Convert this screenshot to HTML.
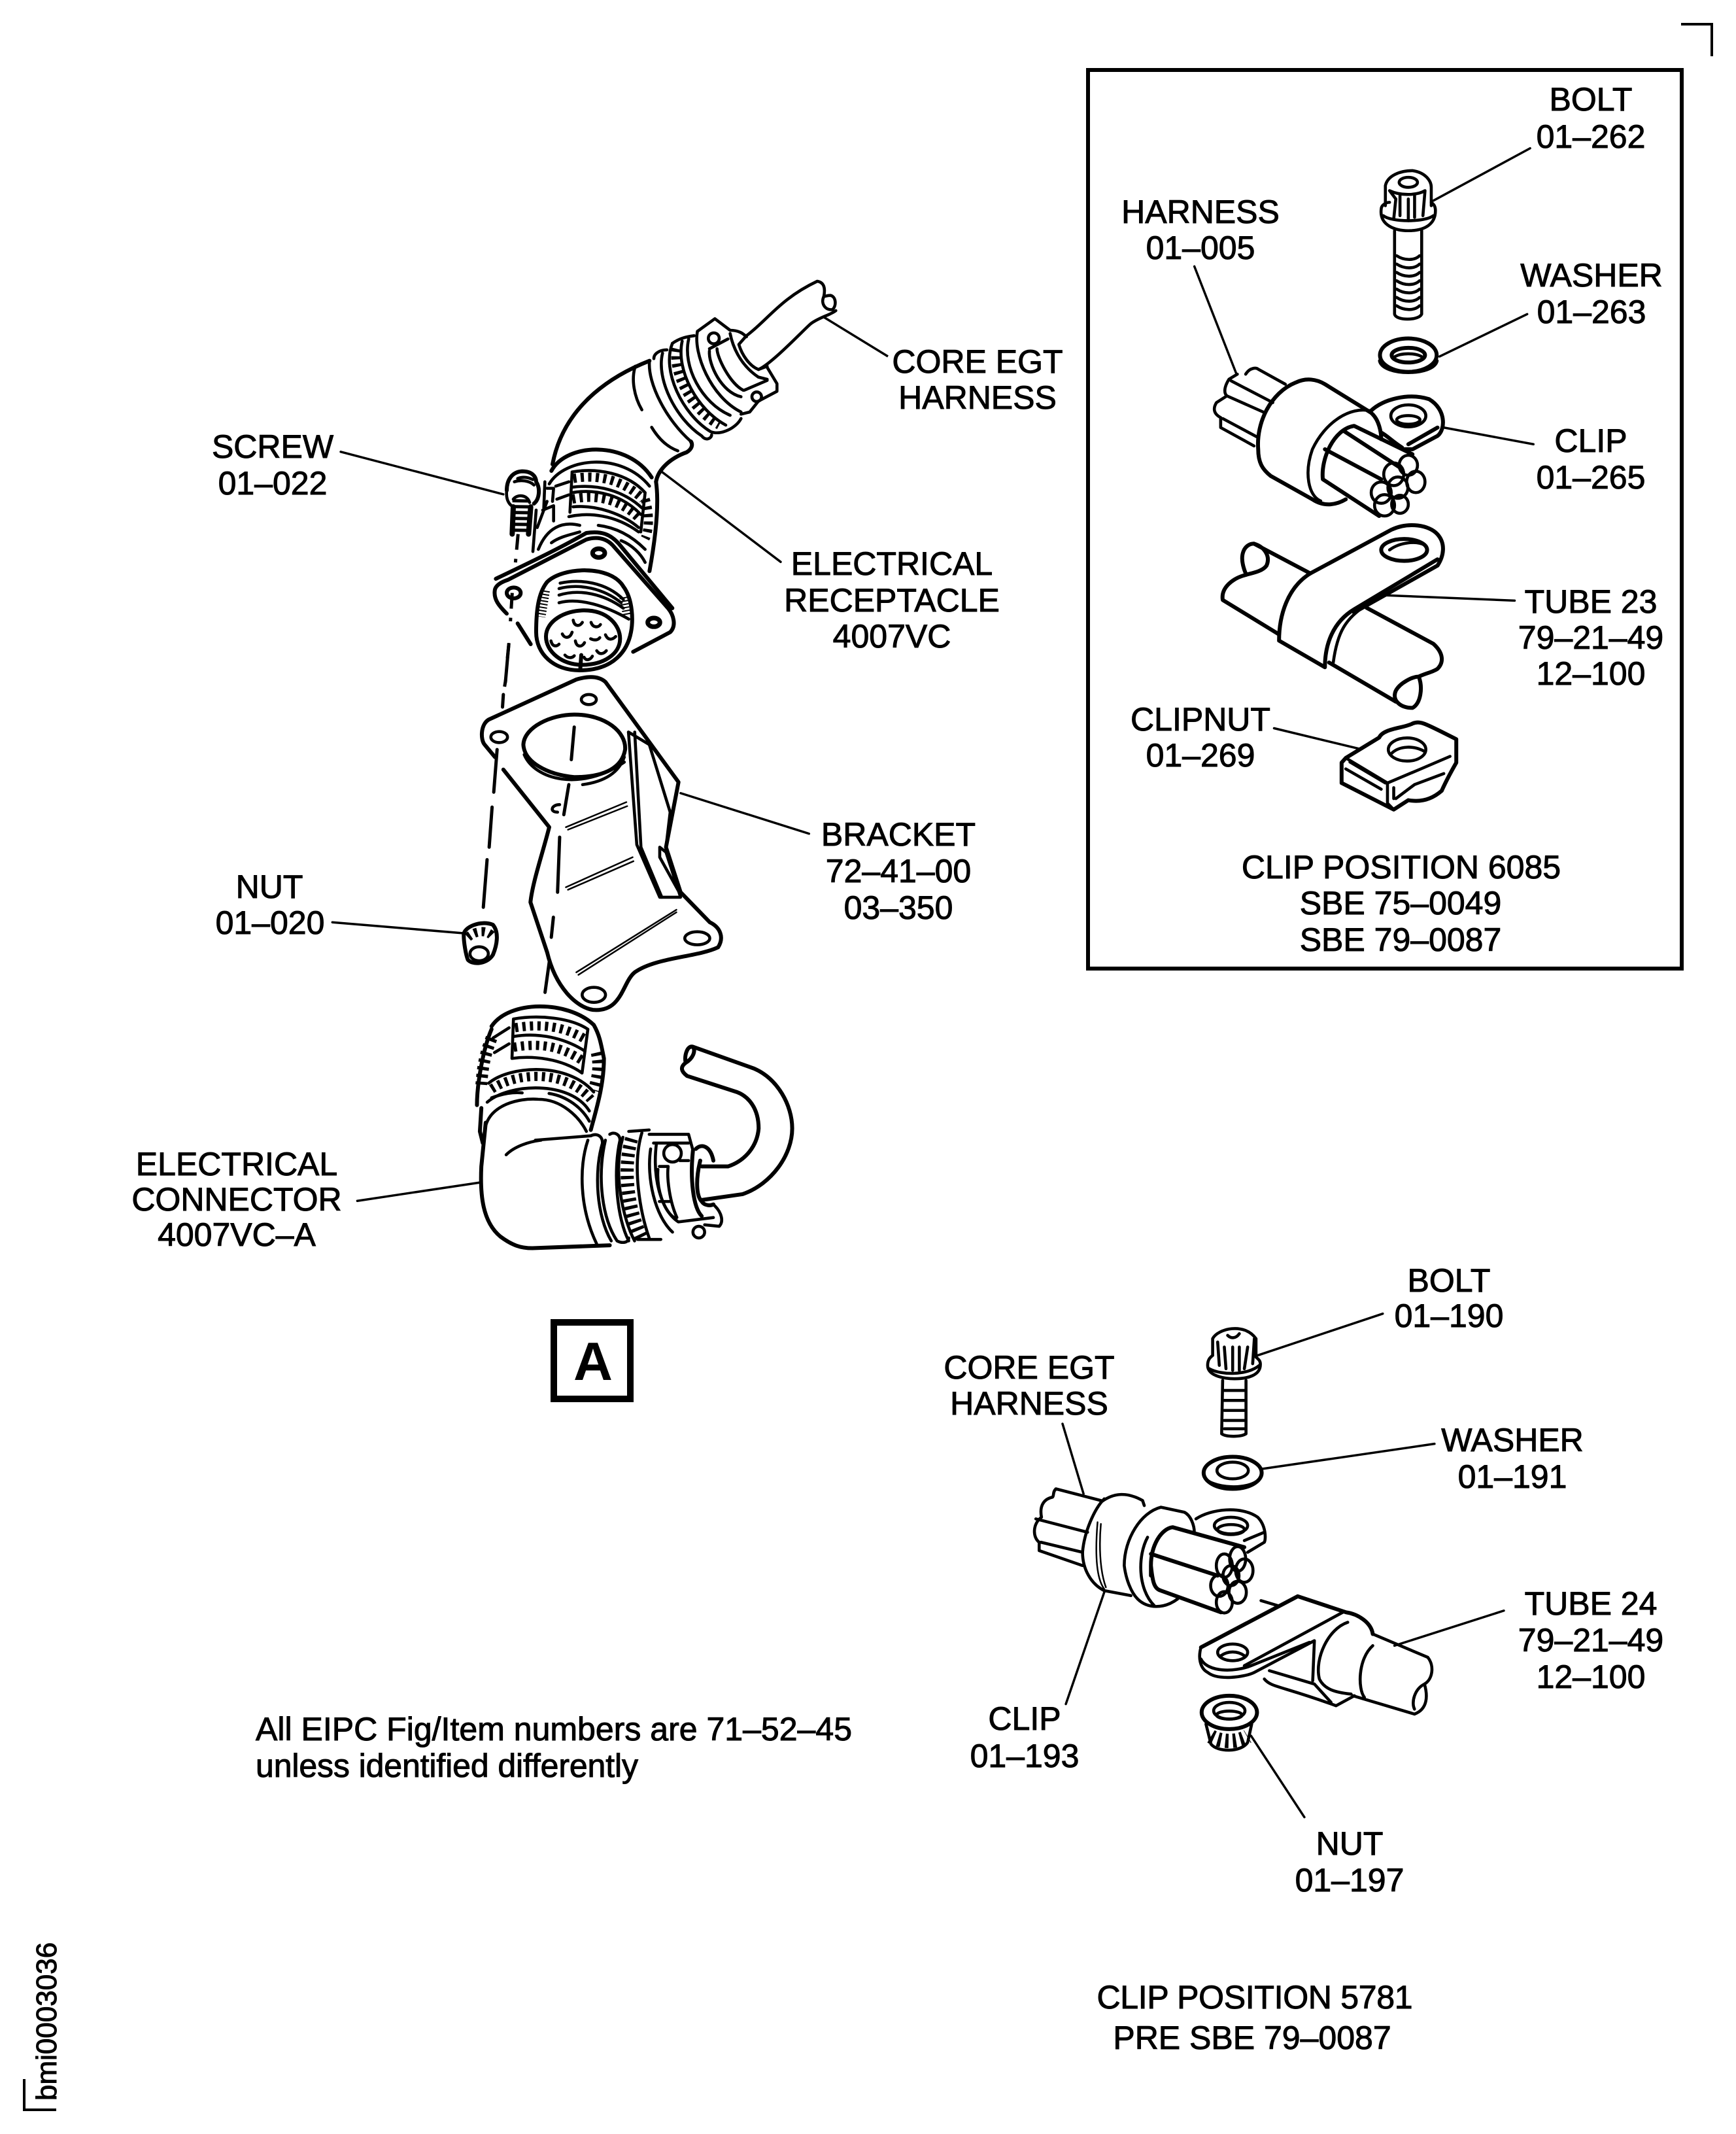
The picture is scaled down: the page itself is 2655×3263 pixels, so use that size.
<!DOCTYPE html>
<html><head><meta charset="utf-8"><style>
html,body{margin:0;padding:0;background:#fff}
svg{display:block}
text{font-family:"Liberation Sans",sans-serif;font-size:50px;fill:#000;stroke:#000;stroke-width:1px;text-anchor:middle}
.l{text-anchor:start}
g.d path,g.d ellipse,g.d circle,.d *{fill:none;stroke:#000;stroke-width:4.6;stroke-linecap:round;stroke-linejoin:round;vector-effect:non-scaling-stroke}
g.d .th{stroke-width:2.5}
g.d .b{stroke-width:6}
g.d .teeth{stroke-linecap:butt;stroke-width:14;stroke-dasharray:5 6.5}
g.d .dash{stroke-linecap:butt;stroke-dasharray:24 14}
</style></head><body>
<svg width="2655" height="3263" viewBox="0 0 2655 3263" xmlns="http://www.w3.org/2000/svg">
<rect width="2655" height="3263" fill="#fff"/>

<!-- corner marks + frame -->
<path d="M2571 37H2618V86" fill="none" stroke="#000" stroke-width="4"/>
<rect x="1664" y="107" width="908" height="1374" fill="none" stroke="#000" stroke-width="6"/>
<path d="M37 3179V3226H86" fill="none" stroke="#000" stroke-width="4"/>
<rect x="847" y="2022" width="117" height="117" fill="none" stroke="#000" stroke-width="10"/>
<text x="907" y="2110" style="font-size:83px;font-weight:bold;stroke-width:0">A</text>

<!-- upper elbow (zoom 8 coords) -->
<g class="d" transform="translate(780 400) scale(.3333)">
<path d="M1085 340C1180 270 1240 170 1410 90C1440 95 1448 120 1440 160"/>
<path d="M1140 495C1200 470 1350 310 1380 285C1420 255 1470 245 1495 225"/>
<path d="M1440 160C1425 190 1445 225 1480 220C1500 200 1495 160 1470 155C1455 155 1445 160 1440 160"/>
<path d="M1085 340L1050 380C1065 430 1100 480 1140 495L1180 480"/>
<path d="M860 320L940 262L1010 315C1050 315 1070 330 1085 345"/>
<path d="M1180 485L1225 560V595L1140 640"/>
<path d="M640 455C500 510 250 640 195 930" class="b"/>
<path d="M670 1010C680 950 740 900 810 875C835 860 840 840 830 825" class="b"/>
<path d="M575 480C555 540 570 620 605 680"/>
<path d="M650 760C680 810 720 850 770 868"/>
<path d="M640 455C630 560 720 730 830 825"/>
<path d="M660 445C660 420 690 405 720 405"/>
<path d="M700 420C670 540 760 720 880 800C900 825 925 810 925 795"/>
<path d="M745 375C695 500 790 700 920 780C970 800 1040 760 1060 720"/>
<path d="M790 365C760 500 860 680 990 750"/>
<path d="M745 375C780 350 810 345 845 340"/>
<path d="M765 400C740 500 830 680 960 750" class="teeth"/>
<path d="M820 355C790 480 880 650 1010 705"/>
<path d="M860 320C840 420 920 620 1060 690"/>
<path d="M915 410C910 470 970 600 1060 620"/>
<path d="M950 400C950 440 1010 560 1070 590"/>
<path d="M915 400L1000 355"/>
<path d="M1010 330C1020 380 1050 470 1140 530L1180 540"/>
<path d="M1075 590L1180 545"/>
<circle cx="935" cy="352" r="25"/><circle cx="1132" cy="620" r="22"/>
<path d="M1060 700L1100 690L1140 640"/>
<!-- coupling ring -->
<path d="M190 960C260 830 540 820 650 990" class="b"/>
<path d="M180 1020C250 900 510 870 640 1030"/>
<path d="M285 965C400 945 540 970 620 1060L600 1240"/>
<path d="M285 965L275 1150"/>
<path d="M285 1035C400 1020 520 1050 605 1130"/>
<path d="M285 1060C400 1040 520 1075 600 1160"/>
<path d="M290 995C400 975 520 1000 610 1090" class="teeth"/>
<path d="M285 1090C400 1065 510 1095 590 1175" class="teeth"/>
<path d="M290 1125C400 1115 520 1160 590 1220"/>
<path d="M670 1010C680 1080 680 1200 640 1420" class="b"/>
<path d="M620 1090C640 1150 640 1230 620 1270" class="teeth"/>
<path d="M160 1010L155 1130M210 1030L270 1010M215 1090L270 1070M125 1220L170 1100"/>
<path d="M170 1040L200 1040L195 1100M150 1140L200 1120L200 1190"/>
<path d="M130 1320C170 1220 240 1190 320 1210M190 1290C230 1260 290 1250 320 1240M405 1210C490 1220 560 1260 620 1320M510 1280C560 1300 600 1340 620 1380"/>
<path d="M105 1330L120 1140"/>
<path d="M270 1170C360 1150 480 1160 590 1240"/>
<path d="M1450 260L1500 290" class="th"/>
</g>

<!-- receptacle (zoom 9 coords) -->
<g class="d" transform="translate(720 700) scale(.3333)">
<path d="M165 150C165 100 190 65 235 62C280 62 300 85 300 110C320 140 315 190 290 210" class="b"/>
<path d="M165 150C160 190 175 215 195 225M215 95C240 85 265 90 285 100M200 110C230 100 270 105 290 125"/>
<path d="M195 190C215 165 260 170 270 205"/>
<path d="M195 225L190 350M275 225L265 350" class="b" style="stroke-width:8"/>
<path d="M230 190L228 350" class="teeth" style="stroke-width:26;stroke-dasharray:5 4"/>
<path d="M217 350L205 480M190 620L182 750M175 850L168 920M160 1020L155 1050" class="dash" style="stroke-width:5"/>
<path d="M165 715C130 680 105 650 110 610C112 585 140 570 170 560L530 375C580 360 620 370 650 400L905 690C930 720 945 770 915 800L745 890" class="b"/>
<path d="M115 555C250 490 400 420 530 345C600 335 640 350 680 395L925 690" class="b"/>
<path d="M215 760L275 855" class="b"/>
<ellipse cx="197" cy="620" rx="32" ry="25" class="b"/>
<ellipse cx="587" cy="437" rx="28" ry="20" style="stroke-width:7"/>
<ellipse cx="840" cy="755" rx="28" ry="20" style="stroke-width:7"/>
<path d="M300 800C300 700 310 620 350 570C420 500 640 490 700 590C745 650 745 750 735 800C720 880 660 975 500 975C380 975 300 900 300 800" class="b"/>
<path d="M345 820C345 750 430 700 520 700C630 700 685 770 685 830C685 900 610 950 510 950C420 950 345 890 345 820" class="b"/>
<path d="M410 575C500 555 620 570 700 650M405 600C500 575 610 600 690 665M405 630C500 600 610 625 700 690M405 665C500 640 620 680 725 740" />
<path d="M345 610L325 730" class="teeth" style="stroke-width:12;stroke-dasharray:2 3"/>
<path d="M700 640L715 720" class="teeth" style="stroke-width:12;stroke-dasharray:2 3"/>
<path d="M470 745C475 775 500 775 512 755M552 755C560 780 585 780 595 765M420 808C430 830 455 830 465 800M550 830C570 840 585 835 592 825M618 812C630 840 650 835 665 820M480 840C485 870 510 870 522 848M368 840C375 870 395 865 405 855M432 905C445 920 465 920 475 908M520 915C530 935 550 925 558 910M578 885C590 905 610 900 622 885"/>
<path d="M507 905L502 975" class="b"/>
</g>

<!-- bracket + nut + dashed (zoom 1 coords) -->
<g class="d" transform="translate(250 400) scale(.6378 .7653)">
<path d="M815 1015L925 1130C910 1180 885 1240 880 1280L920 1380C940 1450 990 1490 1030 1495C1100 1500 1100 1440 1130 1420C1180 1390 1280 1390 1330 1370C1345 1350 1335 1330 1310 1320L1240 1260L1205 1170L1235 1040L1060 840C1040 825 1010 830 990 835L780 915C760 925 760 955 770 965L795 990" class="b"/>
<path d="M863 965C865 930 930 905 985 905C1060 905 1110 940 1107 975C1100 1010 1060 1030 985 1030C920 1025 865 1000 863 965" class="b"/>
<path d="M865 985C890 1035 1000 1060 1105 1000M1005 1045C1050 1040 1090 1025 1105 990"/>
<ellipse cx="805" cy="950" rx="20" ry="11"/>
<ellipse cx="1020" cy="875" rx="18" ry="10"/>
<ellipse cx="1280" cy="1352" rx="30" ry="13"/>
<ellipse cx="1032" cy="1465" rx="28" ry="15"/>
<path d="M950 1085C930 1085 925 1100 945 1100"/>
<path d="M1115 940L1135 1165L1190 1270H1240L1205 1180L1190 1170V1190L1240 1265"/>
<path d="M1130 940L1145 1170L1195 1270"/>
<path d="M1115 940L1165 965"/>
<path d="M1165 965L1215 1100L1205 1170"/>
<path d="M965 1130L1110 1080M970 1135L1112 1088M965 1250L1125 1190M970 1255L1127 1198M990 1420L1230 1295M995 1425L1230 1300" class="th"/>
<path d="M985 930L978 995M972 1045L960 1105M950 1150L945 1260M935 1310L930 1350M925 1400L915 1460" style="stroke-width:5"/>
<path d="M828 765L820 840M815 865L813 890M800 975L792 1060M788 1090L781 1170M776 1195L767 1290" style="stroke-width:5"/>
<path d="M720 1345C720 1330 760 1315 790 1325C805 1340 800 1365 790 1385C775 1405 740 1405 730 1395C725 1385 720 1360 720 1345" class="b"/>
<path d="M730 1350C750 1335 780 1335 790 1350" class="teeth"/>
<ellipse cx="757" cy="1383" rx="22" ry="14"/>
<path d="M425 380L815 465M405 1320L720 1342M1195 420L1480 600M1240 1062L1548 1143" class="th" style="stroke-width:3.5"/>
</g>

<!-- lower connector (zoom 2 coords) -->
<g class="d" transform="translate(600 1480) scale(.4464)">
<path d="M340 200C400 110 600 110 690 195C710 230 715 260 725 310C725 400 700 480 680 555" class="b"/>
<path d="M340 210C310 280 290 400 290 470M305 480L300 560L310 600" class="b"/>
<path d="M415 175C500 160 610 170 670 210L650 360C580 310 480 300 410 310L415 175" />
<path d="M415 235C500 220 590 240 660 285"/>
<path d="M420 205C510 190 590 200 662 245" class="teeth"/>
<path d="M415 272C510 255 580 270 652 318" class="teeth"/>
<path d="M330 395C400 335 600 320 690 425"/>
<path d="M340 415C440 350 600 355 680 450" class="teeth"/>
<path d="M325 460C400 395 610 385 675 490"/>
<path d="M340 445C380 430 415 425 445 428M537 430C600 440 650 480 675 525"/>
<path d="M320 540C340 470 430 445 500 450C580 450 640 510 665 560"/>
<path d="M340 240C320 290 310 330 305 400" class="teeth" style="stroke-width:18"/>
<path d="M700 290C712 340 702 380 690 420" class="teeth" style="stroke-width:18"/>
<path d="M345 240L400 205M350 290L400 260"/>
<path d="M320 530L305 680C300 780 310 870 370 920C410 950 440 960 480 960L745 950" class="b"/>
<path d="M490 590L680 575M390 640C420 610 470 595 510 590"/>
<path d="M670 590C640 680 640 820 700 945M680 575C700 565 720 575 720 600C690 700 700 850 750 935"/>
<path d="M745 570C760 560 780 570 780 590C755 700 770 860 810 935"/>
<path d="M730 590C700 720 720 860 770 935C790 945 810 940 810 925"/>
<path d="M790 580C755 700 790 860 830 935M855 565C820 680 850 840 880 925"/>
<path d="M820 585C785 700 815 850 855 925" class="teeth" style="stroke-width:20"/>
<path d="M810 560L880 555M840 930L920 930"/>
<path d="M880 570H1015L1030 625M885 620C870 720 900 850 960 905M905 600C890 720 920 830 980 870L1100 855M895 600H1015"/>
<circle cx="960" cy="635" r="30"/>
<path d="M985 660H1015M915 680H945M910 690C905 760 930 830 965 855M945 680C940 720 950 800 975 855M915 800H950"/>
<path d="M1030 625C1020 720 1030 820 1060 850M1040 620C1060 600 1090 610 1100 660M1055 660C1040 720 1040 780 1060 800C1070 815 1090 815 1100 810" class="b"/>
<path d="M1105 815C1130 840 1135 870 1120 885L1070 880"/>
<circle cx="1050" cy="905" r="20"/>
<path d="M1060 680H1150C1210 660 1250 610 1255 550C1255 480 1220 440 1180 425L1010 370C990 355 985 340 1005 325C1000 300 1010 265 1030 270L1240 345C1320 380 1370 470 1370 550C1370 640 1300 740 1200 775L1060 795M1030 270C1040 285 1030 310 1005 325" class="b"/>
<path d="M0 780L300 735M-120 798L0 780" style="stroke-width:3.5"/>
</g>

<!-- inset upper (zoom 3 coords) -->
<g class="d" transform="translate(1650 90) scale(.6378 .5102)">
<path d="M735 440V380C740 350 770 335 800 335C830 340 845 365 845 385V440"/>
<ellipse cx="790" cy="370" rx="22" ry="15"/>
<path d="M725 450C720 500 760 515 790 515C830 515 855 495 855 455C855 440 850 435 845 430M725 450C725 440 735 430 745 430M730 470C750 490 830 490 850 470"/>
<path d="M745 395L760 420L755 480M770 410V470M790 420V485M805 410V475M830 395L825 470M745 395C770 410 810 410 830 395"/>
<path d="M757 515V765C760 785 815 785 822 765V515"/>
<path d="M762 590C780 605 805 605 817 590M762 615C780 630 805 630 817 615M762 640C780 655 805 655 817 640M762 665C780 680 805 680 817 665M762 690C780 705 805 705 817 690M762 715C780 730 805 730 817 715M762 740C780 755 805 755 817 740"/>
<ellipse cx="790" cy="888" rx="68" ry="50" class="b"/>
<path d="M722 905C730 950 850 950 858 905" class="b"/>
<ellipse cx="790" cy="888" rx="40" ry="22" class="b"/>
<path d="M755 895C770 880 810 880 825 895"/>
<path d="M1082 268L850 425M1075 765L865 892M277 622L378 945M1090 1155L875 1105" style="stroke-width:3.5"/>
<path d="M380 945L360 960C345 990 350 1005 355 1010L330 1030C320 1050 325 1065 340 1075V1105L420 1160"/>
<path d="M400 945C410 925 425 925 430 930L495 975M355 1010L445 1060M345 1078L430 1135M365 965L465 1030"/>
<path d="M430 1170C425 1090 460 1000 520 970C545 955 570 960 590 975L700 1060C720 1080 725 1120 725 1140M430 1170C430 1210 440 1230 460 1250L560 1320C590 1345 620 1335 640 1320" class="b"/>
<path d="M700 1055C650 1040 590 1090 560 1170C540 1240 550 1310 580 1325"/>
<path d="M585 1260C580 1200 610 1110 660 1100L800 1185M585 1260L720 1370M590 1170L725 1260M635 1115L770 1225" class="b"/>
<ellipse cx="755" cy="1245" rx="24" ry="34"/><ellipse cx="790" cy="1218" rx="22" ry="30"/>
<ellipse cx="808" cy="1268" rx="22" ry="32"/><ellipse cx="770" cy="1335" rx="20" ry="27"/>
<ellipse cx="733" cy="1338" rx="24" ry="32"/><ellipse cx="725" cy="1300" rx="24" ry="32"/><ellipse cx="765" cy="1285" rx="24" ry="32"/>
<path d="M700 1055C730 1020 790 1000 840 1020C880 1050 880 1110 860 1130L800 1170L780 1170M725 1120C740 1130 750 1145 775 1165M860 1105L790 1155" class="b"/>
<ellipse cx="790" cy="1070" rx="42" ry="33"/><ellipse cx="790" cy="1082" rx="28" ry="13"/>
</g>

<!-- inset lower (zoom 4 coords) -->
<g class="d" transform="translate(1650 750) scale(.6378 .4783)">
<path d="M555 265L750 125C790 100 840 110 860 140C880 170 875 210 860 240L700 360L660 390" class="b"/>
<path d="M555 265C500 310 480 400 480 480L590 565C590 490 610 420 660 380L860 220" class="b"/>
<path d="M610 550C620 450 640 410 690 365"/>
<ellipse cx="780" cy="190" rx="55" ry="35" class="b"/>
<path d="M745 190C770 165 810 160 830 175"/>
<path d="M400 265C380 200 400 170 420 170C445 180 460 210 450 240C440 260 410 265 400 270C370 280 340 310 345 350L480 460M420 170L555 265" class="b"/>
<path d="M690 375L850 490C875 520 875 550 860 570C850 580 830 585 815 595C825 630 820 680 800 695C770 695 750 670 760 640C770 615 800 595 815 595M600 550L760 675" class="b"/>
<path d="M640 855L720 790C730 760 780 760 800 745C820 735 830 745 905 795V870C890 905 880 930 870 960C840 995 810 995 790 990L755 1020L630 935V870Z" class="b"/>
<path d="M640 855L740 935V1000L755 1020"/>
<ellipse cx="787" cy="828" rx="45" ry="37"/>
<path d="M750 840C770 815 805 815 830 835M650 868L735 935M640 890L725 955M740 935L820 890L890 850M760 985L805 940L875 905M755 950V985"/>
<path d="M1045 352L735 335M468 760L670 825" style="stroke-width:3.5"/>
</g>

<!-- bottom assembly (zoom 5 coords) -->
<g class="d" transform="translate(1500 1950) scale(.5102)">
<path d="M695 240V190C710 160 790 140 825 190V245"/>
<path d="M740 180C750 190 765 190 775 175"/>
<path d="M680 270C680 250 690 245 695 240M680 270C680 305 740 310 760 310C800 310 840 300 838 265C838 255 830 250 825 245M685 280C720 300 800 300 835 270"/>
<path d="M710 200L715 270M730 215L735 280M755 215V285M775 215V285M800 215L790 280M820 190L815 265"/>
<path d="M725 315L722 475C735 485 780 485 795 475V315"/>
<path d="M730 345H790M730 375H790M730 405H790M730 435H790M730 460H790"/>
<ellipse cx="755" cy="592" rx="87" ry="48" class="b"/>
<path d="M668 600C680 640 820 650 842 600"/>
<ellipse cx="755" cy="585" rx="47" ry="25"/>
<path d="M225 640L360 675M225 640C215 650 220 660 215 665C190 670 175 690 182 725C155 745 155 785 175 800V825L305 870M165 730L320 770M180 800L305 830"/>
<path d="M360 680C400 650 440 650 485 675L490 690M305 830C310 770 340 700 370 670M305 830C305 880 330 925 370 945L450 960"/>
<path d="M350 740C345 800 340 900 370 940M360 745C355 800 355 880 375 935" class="th"/>
<path d="M430 870C430 790 480 710 540 695L610 710C630 720 640 750 640 770M430 870C435 910 450 950 470 970C500 1000 550 1000 590 970M500 785C470 840 470 940 520 990"/>
<path d="M510 870C510 810 540 760 575 755L790 815M510 900V870C515 920 520 940 540 945L720 1010M510 835L710 900" class="b"/>
<ellipse cx="730" cy="870" rx="24" ry="35"/><ellipse cx="770" cy="850" rx="24" ry="37"/>
<ellipse cx="790" cy="885" rx="26" ry="35"/><ellipse cx="750" cy="900" rx="24" ry="30"/>
<ellipse cx="715" cy="930" rx="26" ry="32"/><ellipse cx="770" cy="950" rx="26" ry="33"/><ellipse cx="730" cy="980" rx="24" ry="32"/>
<path d="M645 730C690 700 780 690 830 725C855 750 855 790 850 800L800 830M790 795L850 770"/>
<ellipse cx="750" cy="750" rx="50" ry="25"/><ellipse cx="750" cy="762" rx="40" ry="15"/>
<path d="M660 1115L950 962L1095 1010C1130 1015 1170 1040 1175 1075" class="b"/>
<path d="M660 1115C650 1150 660 1180 680 1190C710 1215 790 1205 820 1190L1000 1095L995 1215M660 1150C680 1190 760 1190 810 1170L985 1100M1085 1010L790 1170M840 975L890 990"/>
<ellipse cx="755" cy="1130" rx="45" ry="25"/>
<path d="M720 1140C740 1125 770 1125 790 1140"/>
<path d="M1175 1075L1340 1145C1360 1170 1355 1210 1330 1225C1340 1260 1340 1300 1300 1315L1115 1260M1175 1110C1130 1150 1130 1240 1150 1265M1100 1040C1040 1060 1000 1150 1015 1210C1030 1240 1060 1250 1110 1255M850 1210C870 1235 900 1230 1065 1290L1120 1260M865 1185L1000 1225L1050 1280M1330 1225C1300 1240 1290 1280 1300 1300"/>
<ellipse cx="745" cy="1310" rx="83" ry="50" class="b"/>
<ellipse cx="745" cy="1305" rx="47" ry="25"/><ellipse cx="745" cy="1318" rx="38" ry="12"/>
<path d="M675 1345L690 1405C710 1430 780 1430 800 1400L812 1345"/>
<path d="M690 1382C720 1400 770 1400 800 1382" class="teeth" style="stroke-width:22"/>
<path d="M1205 115L830 240M1360 505L845 580M245 445L308 655M370 950L255 1285M810 1380L970 1624M1240 1110L1568 1005" style="stroke-width:3.5"/>
</g>
<path d="M1260 485L1358 545" fill="none" stroke="#000" stroke-width="3.5"/>

<!-- labels -->
<text x="1495" y="570">CORE EGT</text><text x="1495" y="625">HARNESS</text>
<text x="417" y="700">SCREW</text><text x="417" y="756">01–022</text>
<text x="1364" y="879">ELECTRICAL</text><text x="1364" y="935">RECEPTACLE</text><text x="1364" y="990">4007VC</text>
<text x="1374" y="1293">BRACKET</text><text x="1374" y="1349">72–41–00</text><text x="1374" y="1405">03–350</text>
<text x="412" y="1373">NUT</text><text x="413" y="1428">01–020</text>
<text x="362" y="1797">ELECTRICAL</text><text x="362" y="1851">CONNECTOR</text><text x="362" y="1905">4007VC–A</text>

<text x="2433" y="169">BOLT</text><text x="2433" y="226">01–262</text>
<text x="2434" y="438">WASHER</text><text x="2434" y="494">01–263</text>
<text x="1836" y="341">HARNESS</text><text x="1836" y="396">01–005</text>
<text x="2433" y="691">CLIP</text><text x="2433" y="747">01–265</text>
<text x="2433" y="937">TUBE 23</text><text x="2433" y="992">79–21–49</text><text x="2433" y="1047">12–100</text>
<text x="1836" y="1117">CLIPNUT</text><text x="1836" y="1172">01–269</text>
<text x="2143" y="1343">CLIP POSITION 6085</text><text x="2142" y="1398">SBE 75–0049</text><text x="2142" y="1454">SBE 79–0087</text>

<text x="2216" y="1975">BOLT</text><text x="2216" y="2029">01–190</text>
<text x="2313" y="2219">WASHER</text><text x="2313" y="2275">01–191</text>
<text x="1574" y="2108">CORE EGT</text><text x="1574" y="2163">HARNESS</text>
<text x="2433" y="2469">TUBE 24</text><text x="2433" y="2525">79–21–49</text><text x="2433" y="2581">12–100</text>
<text x="1567" y="2645">CLIP</text><text x="1567" y="2702">01–193</text>
<text x="2064" y="2836">NUT</text><text x="2064" y="2892">01–197</text>
<text x="1919" y="3071" textLength="483">CLIP POSITION 5781</text><text x="1915" y="3133">PRE SBE 79–0087</text>
<text class="l" x="391" y="2661" textLength="912">All EIPC Fig/Item numbers are 71–52–45</text>
<text class="l" x="391" y="2717" textLength="585">unless identified differently</text>
<text class="l" transform="translate(86 3212) rotate(-90)" style="font-size:44px">bmi0003036</text>
</svg>
</body></html>
